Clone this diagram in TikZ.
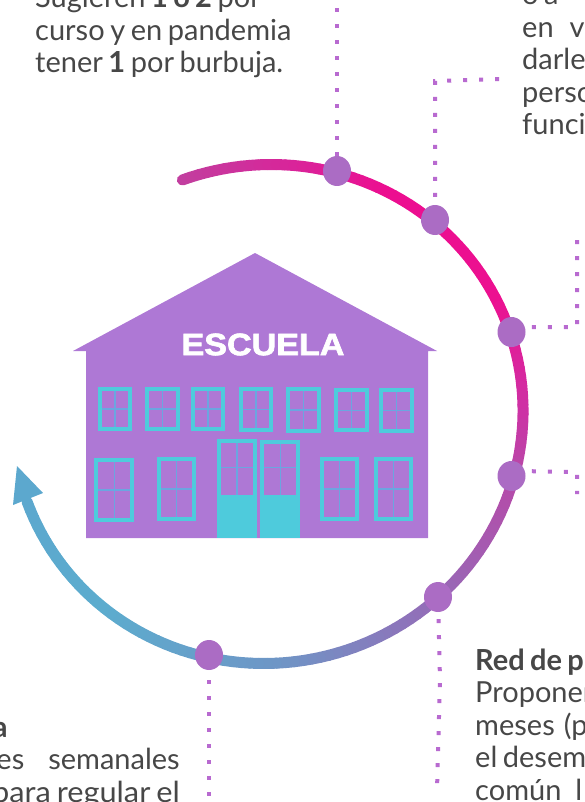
\documentclass[tikz,border=0pt]{standalone}
\usepackage{fontspec}
\usetikzlibrary{shapes.geometric}
\setmainfont[WordSpace=0.75]{Lato}
\definecolor{casa}{HTML}{AE78D5}
\definecolor{celeste}{HTML}{4ECBDC}
\definecolor{palito}{HTML}{6BA6E0}
\definecolor{bola}{HTML}{AB6CC4}
\definecolor{punto}{HTML}{B86AD0}
\definecolor{texto}{HTML}{474747}
\definecolor{flecha}{HTML}{5CA8CE}
\tikzset{
  arco/.style={line width=11pt, line cap=round},
  marco/.style={draw=celeste, line width=4pt},
  palo/.style={draw=palito, line width=1.3pt},
  puntos/.style={draw=punto, line width=4pt, dash pattern=on 4pt off 12pt},
  bolita/.style={ellipse, fill=bola, minimum width=28pt, minimum height=30pt, inner sep=0pt},
  parrafo/.style={anchor=base west, align=left, inner sep=0pt, text=texto, font=\fontsize{29}{32.5}\selectfont},
}
\begin{document}
\begin{tikzpicture}[x=1pt, y=-1pt, declare function={radio(\t)=252.5+3.5*cos(2*\t+30);}]
    \useasboundingbox (0,0) rectangle (584,802);
    \clip (0,0) rectangle (584,802);

    \fill[casa] (255,253) -- (437,351) -- (428,351) -- (428,538) -- (86,538) -- (86,351) -- (73,351) -- cycle;
    \node[inner sep=0pt, text=white] (titulo) at (263,344.5) {\fontspec[BoldFeatures={FakeBold=2}]{Liberation Sans}\fontsize{31}{31}\selectfont\bfseries\scalebox{1.1}[1]{ESCUELA}};

    \foreach \xa/\xb/\ya/\yb in {97.7/132/386.7/431, 144.7/179.7/386.7/431, 191/225/386.7/431, 238.7/273/386.7/432,
        286.3/320.7/387.3/432.7, 334/368.7/388/432.3, 379.3/414/388/432.7,
        94.3/134.3/458/521.7, 157/196.3/457/520.7, 320/359/457.3/520.7, 373.7/413/457/520.7}{
      \draw[palo] ({(\xa+\xb)/2},\ya) -- ({(\xa+\xb)/2},\yb);
      \draw[palo] (\xa,{(\ya+\yb)/2}) -- (\xb,{(\ya+\yb)/2});
      \draw[marco] (\xa+2,\ya+2) rectangle (\xb-2,\yb-2);
    }
    \foreach \xa/\xb/\ya in {217.3/256.7/439.3, 260.3/300/440.3}{
      \draw[palo] ({(\xa+\xb)/2},\ya) -- ({(\xa+\xb)/2},495);
      \draw[palo] (\xa,{(\ya+495)/2}) -- (\xb,{(\ya+495)/2});
      \draw[marco] (\xa+2,\ya+2) rectangle (\xb-2,536);
      \fill[celeste] (\xa,494.7) rectangle (\xb,538);
    }

    \foreach \ta/\tb/\ca/\cb in {-110/-74/C0409F/E01C98, -74/-60/E01C98/EC0E90, -60/-25/EC0E90/EC1090,
        -25/0/EC1090/CF30A4, 0/15/CF30A4/B848A8, 15/47/B848A8/9868B6, 47/90/9868B6/6E96C6,
        90/132/6E96C6/5CACCE, 132/160/5CACCE/5CA8CE}{
      \definecolor{desde}{HTML}{\ca}
      \definecolor{hasta}{HTML}{\cb}
      \pgfmathsetmacro{\pasos}{int((\tb-\ta)/2)}
      \foreach \i in {1,...,\pasos}{
        \pgfmathsetmacro{\tq}{\ta+(\i-1)*(\tb-\ta)/\pasos}
        \pgfmathsetmacro{\tr}{\ta+\i*(\tb-\ta)/\pasos}
        \pgfmathsetmacro{\pct}{100*\i/\pasos}
        \colorlet{tramo}{hasta!\pct!desde}
        \draw[arco, color=tramo] ({267.5+radio(\tq)*cos(\tq)},{414+radio(\tq)*sin(\tq)}) -- ({267.5+radio(\tr)*cos(\tr)},{414+radio(\tr)*sin(\tr)});
      }
    }
    \fill[flecha] (17,466) -- (43,493) -- (13,505) -- cycle;

    \node[bolita] (d1) at (337,171) {};
    \node[bolita] (d2) at (435,220) {};
    \node[bolita] (d3) at (511.5,332) {};
    \node[bolita] (d4) at (511.5,476) {};
    \node[bolita] (d5) at (438,597) {};
    \node[bolita] (d6) at (209,655) {};

    \coordinate (c1) at (337,0);
    \coordinate (c2a) at (435,81);
    \coordinate (c2b) at (502,79);
    \coordinate (c3a) at (577,327);
    \coordinate (c3b) at (577,240);
    \coordinate (c4a) at (577,472);
    \coordinate (c4b) at (577,494);
    \coordinate (c5a) at (440,680);
    \coordinate (c5b) at (437,790);
    \coordinate (c6) at (209,802);

    \path[puntos] (d1) -- (c1);
    \path[puntos, shorten <=8pt] (d2) -- (c2a) -- (c2b);
    \path[puntos, shorten <=7pt] (d3.20) -- (c3a) -- (c3b);
    \path[puntos, shorten <=7pt] (d4.20) -- (c4a) -- (c4b);
    \path[puntos, shorten <=7pt] (d5) -- (c5a) -- (c5b);
    \path[puntos, shorten <=10pt] (d6) -- (c6);

    \node[parrafo] (sugieren) at (35,73) {Sugieren \textbf{1 o 2} por\\curso y en pandemia\\tener \textbf{1} por burbuja.};
    \node[parrafo] (funcion) at (522,135) {o a\\en\hspace{16pt}va\\darle\\perso\\funcio};
    \node[parrafo] (red) at (475,800) {\textbf{Red de p}\\Proponer\\meses\hspace{9pt}(p\\el desem\\común\hspace{14pt}l};
    \node[parrafo, anchor=base east, align=right] (semanal) at (180,802) {\makebox[187pt][l]{\textbf{a}}\\es\hspace{24pt}semanales\\\scalebox{1.06}[1]{para regular el}};
\end{tikzpicture}
\end{document}
